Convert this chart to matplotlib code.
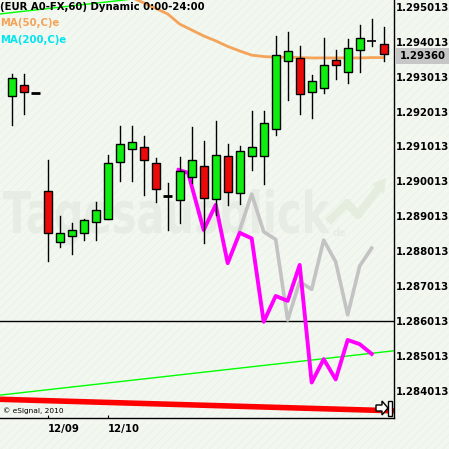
import matplotlib
matplotlib.use("Agg")
import matplotlib.pyplot as plt
from matplotlib.patches import Rectangle, Polygon, PathPatch
from matplotlib.textpath import TextPath
from matplotlib.font_manager import FontProperties
from matplotlib.transforms import Affine2D, IdentityTransform

# ---------------- data ----------------
opens  = [1.29247, 1.29277, 1.29255, 1.28974, 1.28827, 1.28846, 1.28853, 1.28884,
          1.28893, 1.29056, 1.29093, 1.29099, 1.29053, 1.28960, 1.28947, 1.29013,
          1.29045, 1.28950, 1.29073, 1.28969, 1.29075, 1.29073, 1.29151, 1.29345,
          1.29354, 1.29257, 1.29268, 1.29348, 1.29314, 1.29377, 1.29403, 1.29395]
highs  = [1.29309, 1.29309, 1.29255, 1.29063, 1.28902, 1.28882, 1.28894, 1.28941,
          1.29077, 1.29159, 1.29159, 1.29130, 1.29068, 1.28996, 1.29070, 1.29156,
          1.29117, 1.29174, 1.29108, 1.29103, 1.29203, 1.29203, 1.29418, 1.29428,
          1.29389, 1.29305, 1.29411, 1.29377, 1.29409, 1.29449, 1.29467, 1.29443]
lows   = [1.29164, 1.29195, 1.29255, 1.28774, 1.28814, 1.28794, 1.28834, 1.28834,
          1.28893, 1.29003, 1.29003, 1.28963, 1.28943, 1.28863, 1.28883, 1.28996,
          1.28825, 1.28905, 1.28934, 1.28936, 1.29035, 1.28995, 1.29135, 1.29235,
          1.29195, 1.29184, 1.29255, 1.29296, 1.29284, 1.29316, 1.29390, 1.29346]
closes = [1.29297, 1.29257, 1.29255, 1.28854, 1.28853, 1.28861, 1.28890, 1.28918,
          1.29053, 1.29108, 1.29113, 1.29062, 1.28979, 1.28960, 1.29030, 1.29062,
          1.28953, 1.29076, 1.28972, 1.29087, 1.29099, 1.29168, 1.29363, 1.29374,
          1.29251, 1.29288, 1.29334, 1.29334, 1.29383, 1.29411, 1.29403, 1.29365]

ma50_x = list(range(8, 32))
ma50   = [1.29560, 1.29545, 1.29528, 1.29513, 1.29497, 1.29481, 1.29452, 1.29435,
          1.29418, 1.29404, 1.29388, 1.29375, 1.29363, 1.29359, 1.29357, 1.29357,
          1.29356, 1.29355, 1.29355, 1.29355, 1.29355, 1.29355, 1.29356, 1.29356]

magenta_x = [13.9, 14.7, 16, 17, 18, 19, 20, 21, 22, 23, 24, 25, 26, 27, 28, 29, 30]
magenta_y = [1.29034, 1.29026, 1.28862, 1.28934, 1.28767, 1.28854, 1.28838, 1.28599,
             1.28673, 1.28659, 1.28762, 1.28425, 1.28492, 1.28434, 1.28547, 1.28535,
             1.28507]

gray_x = [19, 20, 21, 22, 23, 24, 25, 26, 27, 28, 29, 30]
gray_y = [1.28862, 1.28965, 1.28857, 1.28835, 1.28604, 1.28714, 1.28692, 1.28833,
          1.28771, 1.28619, 1.28759, 1.28810]

chan_x = [-0.975, 31.86]
chan_low = [1.28389, 1.28516]
chan_up = [1.29481, 1.29608]
red_x = [-0.975, 31.86]
red_y = [1.28377, 1.28344]
level = 1.286013

yticks = [1.284013, 1.285013, 1.286013, 1.287013, 1.288013, 1.289013,
          1.290013, 1.291013, 1.292013, 1.293013, 1.294013, 1.295013]
date_pos = [3, 8]
date_labels = ["12/09", "12/10"]
last_price = "1.29360"

# ---------------- figure ----------------
W = H = 449
BG = "#f2f7f0"
WM = "#e7ede5"
plt.rcParams['hatch.linewidth'] = 0.6
fig = plt.figure(figsize=(W / 100, H / 100), dpi=100, facecolor=BG)
fig.patches.append(Rectangle((0, 0), 1, 1, transform=fig.transFigure, facecolor=BG,
                             edgecolor="#eaf2e8", hatch="////", linewidth=0, zorder=-10))

ax = fig.add_axes([0, 31 / H, 394 / W, 418 / H])
ax.set_facecolor("none")
ax.set_xlim(-0.975, 31.86)
ax.set_ylim(1.283234, 1.2952097)

# watermark
fp = FontProperties(family="DejaVu Sans", weight="bold")
tp = TextPath((0, 0), "Tagesausblick", size=1, prop=fp)
tT = TextPath((0, 0), "T", size=1, prop=fp)
ext = tp.get_extents()
capH = tT.get_extents().y1
sx = 327 / ext.width
sy = 42 / capH
tr = Affine2D().translate(-ext.x0, 0).scale(sx, sy).translate(3, H - 233)
fig.patches.append(PathPatch(tp, transform=tr, facecolor=WM, edgecolor="none", zorder=-5))
fig.text(333 / W, 1 - 236 / H, "de", fontsize=7, fontweight="bold", color=WM, zorder=-5)
arr = [(328, 222), (347, 203), (358, 215), (378, 189)]
fig.lines.append(plt.Line2D([p[0] for p in arr], [H - p[1] for p in arr], transform=IdentityTransform(),
                            color="#e5eddf", lw=6, solid_capstyle="butt", zorder=-5))
fig.patches.append(Polygon([(372, H - 184), (386, H - 178), (384, H - 194)], closed=True,
                           transform=IdentityTransform(), facecolor="#e5eddf", edgecolor="none", zorder=-5))

# lines
ax.plot(chan_x, chan_low, color="#00ff00", lw=1, zorder=2)
ax.plot(chan_x, chan_up, color="#00ff00", lw=1, zorder=2)
ax.plot(red_x, red_y, color="#ff0000", lw=4, zorder=2, solid_capstyle="butt")
ax.axhline(level, color="black", lw=1, zorder=2)
ax.plot(ma50_x, ma50, color="#f4a358", lw=2, zorder=2)
ax.plot(gray_x, gray_y, color="#c3c3c3", lw=2.6, zorder=2.2)
ax.plot(magenta_x, magenta_y, color="#ff00ff", lw=2.8, zorder=2.4)

# candles
bw = 0.68
for i, (o, h, l, c) in enumerate(zip(opens, highs, lows, closes)):
    ax.plot([i, i], [l, h], color="black", lw=1, zorder=3)
    if abs(c - o) < 1e-7:
        ax.plot([i - 0.38, i + 0.38], [o, o], color="black", lw=2 if h - l < 1e-7 or i == 13 else 1.2,
                zorder=3.2, solid_capstyle="butt")
    else:
        col = "#10ee10" if c > o else "#ea0a0a"
        ax.add_patch(Rectangle((i - bw / 2, min(o, c)), bw, abs(c - o), facecolor=col,
                               edgecolor="black", lw=1, zorder=3.1))

# axes styling
for s in ["left", "top"]:
    ax.spines[s].set_visible(False)
ax.spines["right"].set_color("black")
ax.spines["bottom"].set_color("black")
ax.spines["right"].set_linewidth(1)
ax.spines["bottom"].set_linewidth(1)
ax.yaxis.tick_right()
ax.set_yticks(yticks)
ax.set_yticklabels([f"{v:.6f}" for v in yticks])
ax.tick_params(axis="y", length=0, pad=1.5, labelsize=7.3)
ax.set_xticks(date_pos)
ax.set_xticklabels(date_labels)
ax.tick_params(axis="x", direction="in", length=2, pad=4, labelsize=7.3)
for lab in ax.get_yticklabels() + ax.get_xticklabels():
    lab.set_fontweight("bold")
for lab in ax.get_xticklabels():
    lab.set_horizontalalignment("left")

# last price box
fig.patches.append(Rectangle((395 / W, 1 - 64.3 / H), 54 / W, 16.6 / H, transform=fig.transFigure,
                             facecolor="#c6c6c6", edgecolor="none", zorder=5))
fig.text(400 / W, 1 - 56 / H, last_price, fontsize=7.3, fontweight="bold", va="center", ha="left", zorder=6)

# header texts
fig.text(0.5 / W, 1 - 7 / H, "(EUR A0-FX,60) Dynamic 0:00-24:00", fontsize=7.3, fontweight="bold",
         va="center", ha="left", color="black")
fig.text(0.5 / W, 1 - 23.5 / H, "MA(50,C)e", fontsize=7.3, fontweight="bold", va="center", ha="left",
         color="#f4a358")
fig.text(0.5 / W, 1 - 40 / H, "MA(200,C)e", fontsize=7.3, fontweight="bold", va="center", ha="left",
         color="#00e5ee")
fig.text(3 / W, 1 - 411 / H, "© eSignal, 2010", fontsize=5.3, va="center", ha="left", color="black")

# scroll button
fig.patches.append(Polygon([(376, H - 405), (382, H - 405), (382, H - 401), (388, H - 408),
                            (382, H - 415), (382, H - 411), (376, H - 411)], closed=True,
                           transform=IdentityTransform(), facecolor="white", edgecolor="black", lw=1, zorder=6))
fig.patches.append(Rectangle((388, H - 416), 4, 15, transform=IdentityTransform(),
                             facecolor="white", edgecolor="black", lw=1, zorder=6))

fig.savefig("out.png", dpi=100, facecolor=BG)
